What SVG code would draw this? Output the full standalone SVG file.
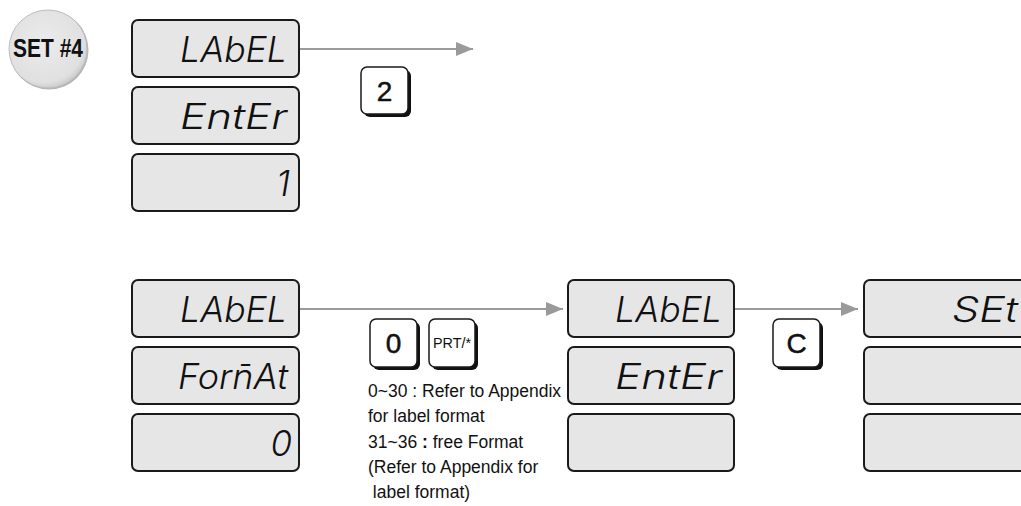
<svg xmlns="http://www.w3.org/2000/svg" width="1021" height="506" viewBox="0 0 1021 506">
<style>
.lcd{fill:#e6e6e7;stroke:#1a1a1a;stroke-width:2}
.seg{font-family:Inter,"Open Sans","DejaVu Sans",sans-serif;font-weight:300;font-style:italic;font-size:35px;fill:#111;text-anchor:end}
.conn{stroke:#9a9a9a;stroke-width:2;fill:none}
.keyface{fill:#fff;stroke:#1a1a1a;stroke-width:1.5}
.keyshadow{fill:#111}
.keytxt{font-family:"Liberation Sans",Arial,sans-serif;font-size:28px;fill:#111;text-anchor:middle;stroke:#111;stroke-width:0.5}
.desc{font-family:"Liberation Sans",Arial,sans-serif;font-size:17.5px;fill:#111}
</style>
<defs>
<marker id="arr" markerWidth="17" markerHeight="14" refX="17" refY="7" orient="auto" markerUnits="userSpaceOnUse">
<polygon points="0,0 17,7 0,14" fill="#9a9a9a"/>
</marker>
<radialGradient id="cg" cx="0.45" cy="0.42" r="0.6">
<stop offset="0" stop-color="#ececec"/>
<stop offset="0.85" stop-color="#e0e0e0"/>
<stop offset="1" stop-color="#c8c8c8"/>
</radialGradient>
</defs>

<g id="set4">
<circle cx="49" cy="50" r="39.5" fill="#b5b5b5"/>
<circle cx="48" cy="49" r="39" fill="url(#cg)" stroke="#bdbdbd" stroke-width="1"/>
<text x="48" y="57" font-family="'Liberation Sans',Arial,sans-serif" font-weight="bold" font-size="25" fill="#111" text-anchor="middle" textLength="70" lengthAdjust="spacingAndGlyphs">SET #4</text>
</g>

<g id="connectors">
<line class="conn" x1="300" y1="49" x2="473" y2="49" marker-end="url(#arr)"/>
<line class="conn" x1="300" y1="309" x2="563" y2="309" marker-end="url(#arr)"/>
<line class="conn" x1="735" y1="309" x2="858" y2="309" marker-end="url(#arr)"/>
</g>

<g id="display1">
<rect class="lcd" x="132" y="20" width="167" height="57" rx="6"/>
<text class="seg" x="287" y="62" textLength="107" lengthAdjust="spacingAndGlyphs">LAbEL</text>
<rect class="lcd" x="132" y="87" width="167" height="57" rx="6"/>
<text class="seg" x="287" y="129" textLength="107" lengthAdjust="spacingAndGlyphs">EntEr</text>
<rect class="lcd" x="132" y="154" width="167" height="57" rx="6"/>
<text class="seg" x="290" y="196">1</text>
</g>

<g id="key2">
<rect class="keyshadow" x="364" y="70" width="47" height="47" rx="6"/>
<rect class="keyface" x="361" y="67" width="47" height="47" rx="6"/>
<text class="keytxt" x="384.5" y="100.5">2</text>
</g>

<g id="display2">
<rect class="lcd" x="132" y="280" width="167" height="57" rx="6"/>
<text class="seg" x="287" y="322" textLength="107" lengthAdjust="spacingAndGlyphs">LAbEL</text>
<rect class="lcd" x="132" y="347" width="167" height="57" rx="6"/>
<text class="seg" x="288" y="389" textLength="110" lengthAdjust="spacingAndGlyphs">Forn̄At</text>
<rect class="lcd" x="132" y="414" width="167" height="57" rx="6"/>
<text class="seg" x="292" y="456">0</text>
</g>

<g id="key0">
<rect class="keyshadow" x="373" y="322" width="47" height="48" rx="6"/>
<rect class="keyface" x="370" y="319" width="47" height="48" rx="6"/>
<text class="keytxt" x="393.5" y="353">0</text>
</g>

<g id="keyprt">
<rect class="keyshadow" x="432" y="322" width="46" height="48" rx="6"/>
<rect class="keyface" x="429" y="319" width="46" height="48" rx="6"/>
<text x="452" y="348" font-family="'Liberation Sans',Arial,sans-serif" font-size="14" fill="#111" text-anchor="middle" textLength="38" lengthAdjust="spacingAndGlyphs">PRT/*</text>
</g>

<g id="note">
<text class="desc" x="368" y="397">0~30 : Refer to Appendix</text>
<text class="desc" x="368" y="422">for label format</text>
<text class="desc" x="368" y="448">31~36 <tspan font-weight="bold">:</tspan> free Format</text>
<text class="desc" x="368" y="473">(Refer to Appendix for</text>
<text class="desc" x="368" y="498" xml:space="preserve"> label format)</text>
</g>

<g id="display3">
<rect class="lcd" x="568" y="280" width="166" height="57" rx="6"/>
<text class="seg" x="722" y="322" textLength="107" lengthAdjust="spacingAndGlyphs">LAbEL</text>
<rect class="lcd" x="568" y="347" width="166" height="57" rx="6"/>
<text class="seg" x="722" y="389" textLength="107" lengthAdjust="spacingAndGlyphs">EntEr</text>
<rect class="lcd" x="568" y="414" width="166" height="57" rx="6"/>
</g>

<g id="keyc">
<rect class="keyshadow" x="776" y="322" width="47" height="48" rx="6"/>
<rect class="keyface" x="773" y="319" width="47" height="48" rx="6"/>
<text class="keytxt" x="796.5" y="353">C</text>
</g>

<g id="display4">
<rect class="lcd" x="864" y="280" width="170" height="57" rx="6"/>
<text class="seg" x="1018" y="322" textLength="66" lengthAdjust="spacingAndGlyphs">SEt</text>
<rect class="lcd" x="864" y="347" width="170" height="57" rx="6"/>
<rect class="lcd" x="864" y="414" width="170" height="57" rx="6"/>
</g>
</svg>
